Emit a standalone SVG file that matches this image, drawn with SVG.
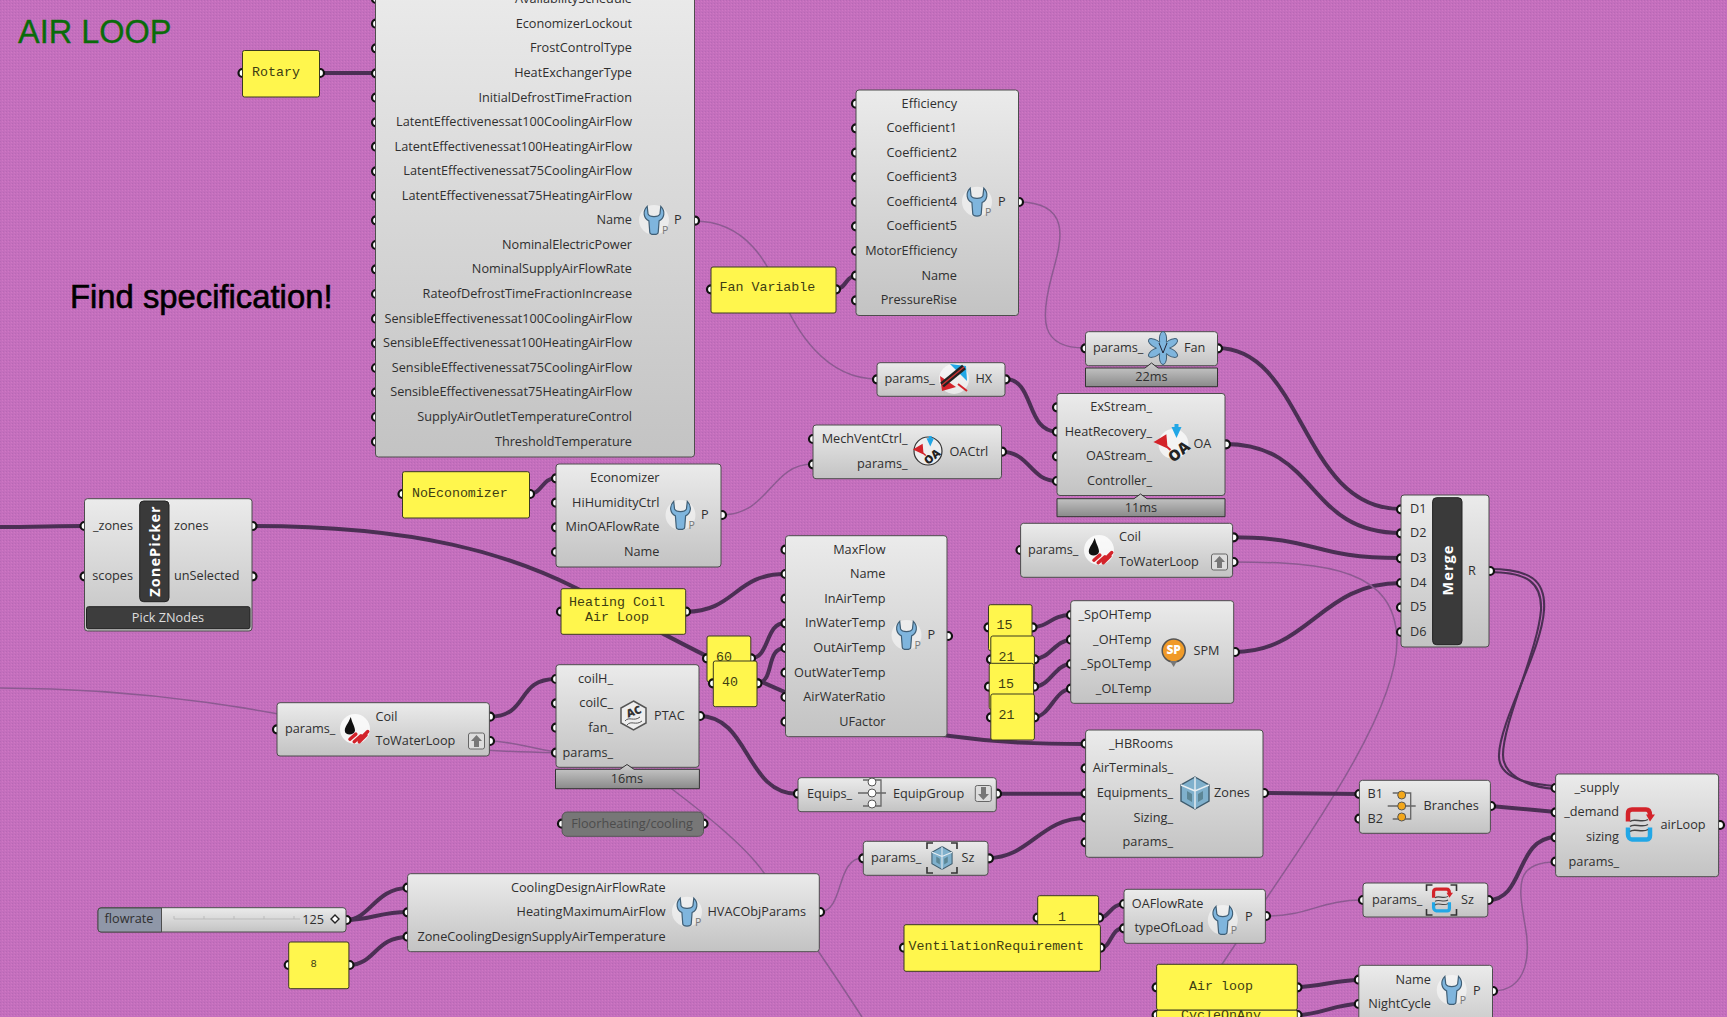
<svg xmlns="http://www.w3.org/2000/svg" xmlns:xlink="http://www.w3.org/1999/xlink" width="1727" height="1017" viewBox="0 0 1727 1017">
<style>
text{font-family:"Open Sans","Noto Sans","Liberation Sans",sans-serif;font-size:12.7px;fill:#2f2f2f;dominant-baseline:central}
text:not([transform]):not(.m){transform:translateY(-.8px)}
.e{text-anchor:end}.c{text-anchor:middle}
.m{font-family:"Liberation Mono","DejaVu Sans Mono",monospace;font-size:13.3px;fill:#3d3d12}
.n{fill:url(#ng);stroke:#4d4d4d;stroke-width:1}
.y{fill:#fff64d;stroke:#3a3a20;stroke-width:1}
.t{fill:url(#tg);stroke:#333;stroke-width:1}
.p{fill:#fff;stroke:#111;stroke-width:2.2}
.k{fill:none;stroke:#4b2f54;stroke-width:4;stroke-linecap:round}
.f{fill:none;stroke:#8d5a92;stroke-width:1.5}
.d{fill:none;stroke:#4b2f54;stroke-width:2.1}
.w{fill:#fff;font-weight:700;font-family:"Open Sans","Liberation Sans",sans-serif}
</style>
<defs>
<linearGradient id="ng" x1="0" y1="0" x2="0" y2="1"><stop offset="0" stop-color="#ebebeb"/><stop offset="1" stop-color="#c3c3c3"/></linearGradient>
<linearGradient id="tg" x1="0" y1="0" x2="0" y2="1"><stop offset="0" stop-color="#cfcfcf"/><stop offset="1" stop-color="#8a8a8a"/></linearGradient>
<pattern id="bg" width="3" height="3" patternUnits="userSpaceOnUse"><rect width="3" height="3" fill="#c46fbd"/><rect width="1" height="1" fill="#b768b5"/><rect x="2" y="1" width="1" height="1" fill="#cf78c4"/></pattern>
<g id="wrench"><circle r="15" fill="#fff" opacity=".5"/><g transform="scale(.85)"><path d="M-8,-16C-14,-10 -12,-2 -6,1L-5,14C-5,18 5,18 5,14L6,1C12,-2 14,-10 8,-16L7,-7C5,-3 -5,-3 -7,-7Z" fill="#7fb5dd" stroke="#3f5e75" stroke-width="1.4"/></g><text x="8" y="11" style="font-size:10.5px;fill:#777">P</text></g>
<g id="coil"><circle r="15" fill="#fff" opacity=".8"/><g transform="scale(.85)"><path d="M-5,-14C-8,-6 -12,-3 -12,2C-12,8 -1,8 0,2C0,-3 -3,-6 -5,-14Z" fill="#111"/><path d="M-6,12L1,6M-1,15L7,8M5,15L13,7M10,8L15,3" stroke="#d3232a" stroke-width="4" stroke-linecap="round"/></g></g>
<g id="oaarrows"><path d="M-2,-17L8,-17L3,-6ZM1,-20L5,-20L5,-14L1,-14Z" fill="#22a7e6"/><path d="M-18,-2L-8,-8L-7,3ZM-12,-2L-3,6" fill="#d3232a" stroke="#d3232a" stroke-width="2"/><text x="5" y="7" transform="rotate(-40 5 7)" class="c" style="font-size:15px;font-weight:800;fill:#222">OA</text></g>
<g id="cube"><path d="M0,-16L14,-8L14,8L0,16L-14,8L-14,-8Z" fill="#7fb0cc" stroke="#3e5b6d" stroke-width="1.4"/><path d="M0,-16L0,-2L14,-8M0,-2L-14,-8M0,-2L0,16" fill="none" stroke="#e8eef2" stroke-width="1.4"/><path d="M-8,-2L-3,1L-3,9L-8,6ZM8,-2L3,1L3,9L8,6Z" fill="#355" opacity=".45"/></g>
<g id="corners" fill="none" stroke="#333" stroke-width="1.6"><path d="M-15,-9V-15H-9M9,-15H15V-9M-15,9V15H-9M9,15H15V9"/></g>
<g id="loop"><path d="M-11,-3V-11C-11,-14 -9,-15 -7,-15H7C10,-15 11,-13 11,-9" fill="none" stroke="#d3232a" stroke-width="4.5"/><path d="M7,-10L16,-10L11,-3Z" fill="#d3232a"/><path d="M-11,3V10C-11,13 -9,15 -7,15H8C10,15 11,13 11,11V3" fill="none" stroke="#22a7e6" stroke-width="4.5"/><path d="M-9,-3C-5,-7 3,-1 9,-5M-9,2C-5,-2 3,4 9,0M-9,7C-5,3 3,9 9,5" fill="none" stroke="#444" stroke-width="1.5"/></g>
<g id="group3"><path d="M-9,-13H9V13H-9M-14,0H14" fill="none" stroke="#666" stroke-width="1.3"/><circle cy="-11" r="4"/><circle r="4"/><circle cy="11" r="4"/></g>
<g id="updown"><rect x="-8" y="-8" width="16" height="16" rx="2" fill="#ddd" stroke="#666"/></g>
</defs>
<rect width="1727" height="1017" fill="url(#bg)"/>
<text id="title" x="18" y="33" style="font-family:'Liberation Sans',sans-serif;font-size:32.5px;fill:#0a6b0a;stroke:#0a6b0a;stroke-width:.3">AIR LOOP</text>
<text id="note" x="70" y="297" style="font-family:'Liberation Sans',sans-serif;font-size:32.8px;fill:#000;stroke:#000;stroke-width:.6">Find specification!</text>

<g id="connectors">
<path class="k" d="M0,527C30,527 60,526 84,526"/>
<path class="k" d="M252,526C420,526 510,555 576,588C625,612 680,645 740,672C810,704 850,722 950,736C1000,743 1040,744 1085,744"/>
<path class="k" d="M320,73H375"/>
<path class="k" d="M836,289C846,289 846,276 855,276"/>
<path class="f" d="M1018,202C1075,202 1060,245 1052,275C1040,320 1040,348 1085,348"/>
<path class="f" d="M694,221C750,221 770,270 780,292C795,330 825,379 877,379"/>
<path class="k" d="M1005,379C1035,379 1025,431 1057,431.7"/>
<path class="k" d="M1001,451.7C1030,451.7 1030,481 1057,481"/>
<path class="f" d="M721,515C770,515 770,464 813,464"/>
<path class="k" d="M529,494C542,494 542,478 556,478"/>
<path class="k" d="M1217,348C1305,348 1300,509 1401,509"/>
<path class="k" d="M1225,444C1320,444 1305,533 1401,533"/>
<path class="k" d="M1232,537.3C1320,537.3 1310,558 1401,558"/>
<path class="k" d="M1234,652C1310,652 1320,583 1401,583"/>
<path class="f" d="M1232,562C1330,562 1395,570 1397,640C1398,720 1290,860 1215,975L1190,1017"/>
<path class="f" d="M0,688C150,688 270,710 400,738C450,749 500,752 556,752.7"/>
<path class="f" d="M489,741C510,741 530,748 556,752"/>
<path class="k" d="M686,611.7C735,611.7 735,574 785,574"/>
<path class="k" d="M751,658C770,658 765,623 785,623"/>
<path class="k" d="M757,683C775,683 765,648 785,648"/>
<path class="k" d="M699,716C750,716 745,794 798,794"/>
<path class="k" d="M489,716.7C530,716.7 515,679 556,679"/>
<path class="k" d="M1032,627C1050,627 1050,615 1071,615"/>
<path class="k" d="M1034,659C1050,659 1055,640 1071,640"/>
<path class="k" d="M1034,686.7C1050,686.7 1055,664 1071,664"/>
<path class="k" d="M1034,717C1050,717 1055,689 1071,689"/>
<path class="k" d="M996,793.7H1086"/>
<path class="k" d="M988,858C1030,858 1040,818 1086,818"/>
<path class="k" d="M1263,793L1359,794"/>
<path class="d" d="M1489,569C1530,569 1546,580 1544,610C1542,650 1500,720 1499,755C1498,775 1520,784 1556,786"/>
<path class="d" d="M1489,572C1528,572 1542,583 1541,610C1538,650 1503,722 1503,755C1503,772 1522,787 1556,789"/>
<path class="k" d="M1490,806L1556,812"/>
<path class="k" d="M1488,900C1525,900 1515,838 1556,837"/>
<path class="f" d="M1492,991C1530,991 1530,950 1525,925C1518,885 1515,862 1556,862"/>
<path class="f" d="M819,912C845,912 835,858 863,858"/>
<path class="f" d="M1265,916C1310,916 1320,900 1363,900"/>
<path class="f" d="M660,780C700,810 745,845 764,873C790,910 835,975 862,1017"/>
<path class="k" d="M1098,918C1110,918 1110,904 1124,904"/>
<path class="k" d="M1100,948C1112,948 1110,928 1124,928"/>
<path class="k" d="M1297,987C1320,987 1335,980 1359,980"/>
<path class="k" d="M1297,1015C1320,1015 1335,1004 1359,1004"/>
<path class="k" d="M346,920C370,920 375,888 408,888"/>
<path class="k" d="M346,920C370,920 380,912 408,912"/>
<path class="k" d="M349,965C375,965 375,937 408,937"/>
</g>

<g id="hx-params">
<circle class="p" cx="376" cy="-1" r="4"/><circle class="p" cx="376" cy="23.7" r="4"/><circle class="p" cx="376" cy="48.3" r="4"/><circle class="p" cx="376" cy="73.3" r="4"/><circle class="p" cx="376" cy="97.7" r="4"/><circle class="p" cx="376" cy="122.3" r="4"/><circle class="p" cx="376" cy="146.7" r="4"/><circle class="p" cx="376" cy="171.3" r="4"/><circle class="p" cx="376" cy="196" r="4"/><circle class="p" cx="376" cy="220.3" r="4"/><circle class="p" cx="376" cy="245" r="4"/><circle class="p" cx="376" cy="269.3" r="4"/><circle class="p" cx="376" cy="294" r="4"/><circle class="p" cx="376" cy="318.7" r="4"/><circle class="p" cx="376" cy="343.3" r="4"/><circle class="p" cx="376" cy="368" r="4"/><circle class="p" cx="376" cy="392.3" r="4"/><circle class="p" cx="376" cy="417" r="4"/><circle class="p" cx="376" cy="441.7" r="4"/>
<circle class="p" cx="695" cy="220.7" r="4"/>
<rect class="n" x="375.5" y="-20" width="319" height="477" rx="3"/>
<text class="e" x="632" y="-1">AvailabilitySchedule</text>
<text class="e" x="632" y="23.7">EconomizerLockout</text>
<text class="e" x="632" y="48.3">FrostControlType</text>
<text class="e" x="632" y="73.3">HeatExchangerType</text>
<text class="e" x="632" y="97.7">InitialDefrostTimeFraction</text>
<text class="e" x="632" y="122.3">LatentEffectivenessat100CoolingAirFlow</text>
<text class="e" x="632" y="146.7">LatentEffectivenessat100HeatingAirFlow</text>
<text class="e" x="632" y="171.3">LatentEffectivenessat75CoolingAirFlow</text>
<text class="e" x="632" y="196">LatentEffectivenessat75HeatingAirFlow</text>
<text class="e" x="632" y="220.3">Name</text>
<text class="e" x="632" y="245">NominalElectricPower</text>
<text class="e" x="632" y="269.3">NominalSupplyAirFlowRate</text>
<text class="e" x="632" y="294">RateofDefrostTimeFractionIncrease</text>
<text class="e" x="632" y="318.7">SensibleEffectivenessat100CoolingAirFlow</text>
<text class="e" x="632" y="343.3">SensibleEffectivenessat100HeatingAirFlow</text>
<text class="e" x="632" y="368">SensibleEffectivenessat75CoolingAirFlow</text>
<text class="e" x="632" y="392.3">SensibleEffectivenessat75HeatingAirFlow</text>
<text class="e" x="632" y="417">SupplyAirOutletTemperatureControl</text>
<text class="e" x="632" y="441.7">ThresholdTemperature</text>
<use href="#wrench" x="654" y="220"/><text x="674" y="220">P</text>
</g>

<g id="rotary"><circle class="p" cx="242.5" cy="73" r="4"/><circle class="p" cx="320" cy="73" r="4"/><rect class="y" x="242.5" y="50.5" width="77" height="46.5" rx="2"/><text class="m" x="252" y="72">Rotary</text></g>

<g id="fan-variable"><circle class="p" cx="711" cy="289.3" r="4"/><circle class="p" cx="836" cy="289.3" r="4"/><rect class="y" x="711" y="267" width="125" height="46" rx="2"/><text class="m" x="719.5" y="287.7">Fan Variable</text></g>

<g id="fan-params">
<circle class="p" cx="856" cy="103.7" r="4"/><circle class="p" cx="856" cy="128.3" r="4"/><circle class="p" cx="856" cy="152.7" r="4"/><circle class="p" cx="856" cy="177.3" r="4"/><circle class="p" cx="856" cy="202" r="4"/><circle class="p" cx="856" cy="226.3" r="4"/><circle class="p" cx="856" cy="251" r="4"/><circle class="p" cx="856" cy="275.7" r="4"/><circle class="p" cx="856" cy="300.3" r="4"/><circle class="p" cx="1019" cy="202" r="4"/>
<rect class="n" x="856" y="90" width="162.5" height="225.5" rx="3"/>
<text class="e" x="957" y="103.7">Efficiency</text><text class="e" x="957" y="128.3">Coefficient1</text><text class="e" x="957" y="152.7">Coefficient2</text><text class="e" x="957" y="177.3">Coefficient3</text><text class="e" x="957" y="202">Coefficient4</text><text class="e" x="957" y="226.3">Coefficient5</text><text class="e" x="957" y="251">MotorEfficiency</text><text class="e" x="957" y="275.7">Name</text><text class="e" x="957" y="300.3">PressureRise</text>
<use href="#wrench" x="977" y="201.7"/><text x="998" y="202">P</text>
</g>

<g id="fan"><circle class="p" cx="1085.5" cy="348.3" r="4"/><circle class="p" cx="1218" cy="348.3" r="4"/><rect class="n" x="1085.5" y="331.7" width="132" height="34" rx="3"/><text x="1093" y="348.3">params_</text>
<g transform="translate(1163,348)" fill="#7fb5dd" stroke="#3f5e75"><ellipse cy="-9" rx="3.6" ry="7.5"/><ellipse cy="-9" rx="3.6" ry="7.5" transform="rotate(60)"/><ellipse cy="-9" rx="3.6" ry="7.5" transform="rotate(120)"/><ellipse cy="-9" rx="3.6" ry="7.5" transform="rotate(180)"/><ellipse cy="-9" rx="3.6" ry="7.5" transform="rotate(240)"/><ellipse cy="-9" rx="3.6" ry="7.5" transform="rotate(300)"/><circle r="6.5" stroke="none"/><path d="M-4,-5L0,5L4,-5" fill="none" stroke="#223"/></g>
<text x="1184" y="348.3">Fan</text>
<path class="t" d="M1085.5,368H1145L1151.5,363L1158,368H1217.5V386.7H1085.5Z"/><text class="c" x="1151.5" y="377.3">22ms</text></g>

<g id="hx"><circle class="p" cx="877" cy="379.3" r="4"/><circle class="p" cx="1005.5" cy="379.3" r="4"/><rect class="n" x="877" y="362.7" width="128" height="33.6" rx="3"/><text x="884.5" y="379.3">params_</text>
<g transform="translate(954,379)"><circle r="15" fill="#fff" opacity=".6"/><path d="M-4,-15L12,-13L13,2Z" fill="#22a7e6"/><path d="M-14,-3L-12,12L2,8Z" fill="#d3232a"/><path d="M-12,6L10,-12" stroke="#222" stroke-width="6"/><path d="M-12,6L10,-12" stroke="#c33" stroke-width="1.5"/><path d="M4,5L13,12" stroke="#d3232a" stroke-width="2"/></g>
<text x="975.5" y="379.3">HX</text></g>

<g id="oa"><circle class="p" cx="1057" cy="407.3" r="4"/><circle class="p" cx="1057" cy="431.7" r="4"/><circle class="p" cx="1057" cy="456.3" r="4"/><circle class="p" cx="1057" cy="481" r="4"/><circle class="p" cx="1226" cy="444.3" r="4"/>
<rect class="n" x="1057" y="393.5" width="168" height="102" rx="3"/>
<text class="e" x="1152" y="407.3">ExStream_</text><text class="e" x="1152" y="431.7">HeatRecovery_</text><text class="e" x="1152" y="456.3">OAStream_</text><text class="e" x="1152" y="481">Controller_</text>
<circle cx="1173.5" cy="444" r="15" fill="#fff" opacity=".7"/><use href="#oaarrows" x="1173.5" y="444"/><text x="1193.5" y="444">OA</text>
<path class="t" d="M1057,498.7H1134L1140.5,494L1147,498.7H1225V516.7H1057Z"/><text class="c" x="1141" y="507.7">11ms</text></g>

<g id="oactrl"><circle class="p" cx="813" cy="439" r="4"/><circle class="p" cx="813" cy="464.3" r="4"/><circle class="p" cx="1002" cy="451.7" r="4"/><rect class="n" x="813" y="425" width="188.5" height="53.7" rx="3"/>
<text class="e" x="907.5" y="439">MechVentCtrl_</text><text class="e" x="907.5" y="464.3">params_</text>
<circle cx="928" cy="451" r="14" fill="#eee" stroke="#333" stroke-width="1.2"/><use href="#oaarrows" transform="translate(928,451) scale(.75)"/>
<text x="949.5" y="451.5">OACtrl</text></g>

<g id="noeconomizer"><circle class="p" cx="402.5" cy="494" r="4"/><circle class="p" cx="530" cy="494" r="4"/><rect class="y" x="402.5" y="471.7" width="127" height="46.3" rx="2"/><text class="m" x="412" y="493.3">NoEconomizer</text></g>

<g id="vent-params"><circle class="p" cx="556" cy="478.3" r="4"/><circle class="p" cx="556" cy="502.7" r="4"/><circle class="p" cx="556" cy="527.3" r="4"/><circle class="p" cx="556" cy="552" r="4"/><circle class="p" cx="722" cy="515" r="4"/>
<rect class="n" x="556" y="464" width="165" height="103" rx="3"/>
<text class="e" x="659.5" y="478.3">Economizer</text><text class="e" x="659.5" y="502.7">HiHumidityCtrl</text><text class="e" x="659.5" y="527.3">MinOAFlowRate</text><text class="e" x="659.5" y="552">Name</text>
<use href="#wrench" x="680.5" y="515"/><text x="701" y="515">P</text></g>

<g id="zonepicker"><circle class="p" cx="84.5" cy="526" r="4"/><circle class="p" cx="84.5" cy="576.3" r="4"/><circle class="p" cx="252.5" cy="526" r="4"/><circle class="p" cx="252.5" cy="576.3" r="4"/>
<rect class="n" x="84.5" y="498.7" width="167.5" height="132.3" rx="3"/>
<text class="e" x="133" y="526">_zones</text><text class="e" x="133" y="576.3">scopes</text><text x="174" y="526">zones</text><text x="174" y="576.3">unSelected</text>
<rect x="139.7" y="501" width="29.3" height="100.7" rx="4" fill="#3a3a3a" stroke="#222"/>
<text class="c w" transform="translate(154.5,551) rotate(-90)" style="font-size:14.5px;letter-spacing:1.1px">ZonePicker</text>
<rect x="86.5" y="606.7" width="163.5" height="22" rx="2" fill="#3d3d3d" stroke="#222"/>
<text class="c" x="168" y="617.5" style="fill:#ddd">Pick ZNodes</text></g>

<g id="heating-coil"><circle class="p" cx="561" cy="611.7" r="4"/><circle class="p" cx="686" cy="611.7" r="4"/><rect class="y" x="561" y="588.7" width="124.7" height="45.6" rx="2"/><text class="m c" x="617" y="602.5">Heating Coil</text><text class="m c" x="617" y="617">Air Loop</text></g>

<g id="coil-left"><circle class="p" cx="277" cy="729.3" r="4"/><circle class="p" cx="490" cy="716.7" r="4"/><circle class="p" cx="490" cy="741" r="4"/><rect class="n" x="277" y="702.7" width="212.4" height="53.3" rx="3"/><text x="285" y="729">params_</text><use href="#coil" x="355" y="729"/><text x="375.5" y="716.7">Coil</text><text x="375.5" y="741.3">ToWaterLoop</text><use href="#updown" x="476.5" y="741"/><path d="M476.5,735L482,741H479V747H474V741H471Z" fill="#777"/></g>

<g id="ptac"><circle class="p" cx="556" cy="679" r="4"/><circle class="p" cx="556" cy="703.3" r="4"/><circle class="p" cx="556" cy="727.7" r="4"/><circle class="p" cx="556" cy="752.7" r="4"/><circle class="p" cx="700" cy="716" r="4"/>
<rect class="n" x="556" y="664.7" width="143" height="102.6" rx="3"/>
<text class="e" x="613" y="679">coilH_</text><text class="e" x="613" y="703.3">coilC_</text><text class="e" x="613" y="727.7">fan_</text><text class="e" x="613" y="752.7">params_</text>
<path d="M633.5,701L646,708V723L633.5,730L621,723V708Z" fill="#eee" stroke="#555" stroke-width="1.5"/><text class="c" x="633.5" y="711" transform="rotate(-20 633.5 711)" style="font-size:11px;font-weight:800;fill:#333">AC</text><path d="M625,721C629,716 634,722 640,717M627,725C631,720 636,726 642,721" fill="none" stroke="#555"/>
<text x="654" y="715.7">PTAC</text>
<path class="t" d="M555.5,769.3H620L627,764.5L634,769.3H699.4V788.7H555.5Z"/><text class="c" x="627" y="778.7">16ms</text></g>

<g id="maxflow-params"><circle class="p" cx="785.5" cy="549.7" r="4"/><circle class="p" cx="785.5" cy="574" r="4"/><circle class="p" cx="785.5" cy="598.7" r="4"/><circle class="p" cx="785.5" cy="623.3" r="4"/><circle class="p" cx="785.5" cy="648" r="4"/><circle class="p" cx="785.5" cy="672.7" r="4"/><circle class="p" cx="785.5" cy="697" r="4"/><circle class="p" cx="785.5" cy="721.7" r="4"/><circle class="p" cx="948" cy="636" r="4"/>
<rect class="n" x="785.5" y="535.7" width="161.5" height="201" rx="3"/>
<text class="e" x="885.5" y="549.7">MaxFlow</text><text class="e" x="885.5" y="574">Name</text><text class="e" x="885.5" y="598.7">InAirTemp</text><text class="e" x="885.5" y="623.3">InWaterTemp</text><text class="e" x="885.5" y="648">OutAirTemp</text><text class="e" x="885.5" y="672.7">OutWaterTemp</text><text class="e" x="885.5" y="697">AirWaterRatio</text><text class="e" x="885.5" y="721.7">UFactor</text>
<use href="#wrench" x="906.5" y="635"/><text x="927.5" y="635">P</text></g>

<g id="num-60"><circle class="p" cx="707" cy="658.3" r="4"/><circle class="p" cx="751" cy="658.3" r="4"/><rect class="y" x="707" y="636" width="43.8" height="46" rx="2"/><text class="m c" x="724" y="657">60</text></g>
<g id="num-40"><circle class="p" cx="713" cy="683.3" r="4"/><circle class="p" cx="757.5" cy="683.3" r="4"/><rect class="y" x="713.3" y="661" width="43.7" height="45.7" rx="2"/><text class="m c" x="730" y="682.3">40</text></g>
<g id="num-15a"><circle class="p" cx="988.5" cy="627.3" r="4"/><circle class="p" cx="1032.5" cy="627.3" r="4"/><rect class="y" x="988.5" y="604.7" width="43.5" height="46" rx="2"/><text class="m c" x="1004.5" y="625.7">15</text></g>
<g id="num-21a"><circle class="p" cx="991" cy="659.3" r="4"/><circle class="p" cx="1034.5" cy="659.3" r="4"/><rect class="y" x="990.8" y="636" width="43.6" height="46" rx="2"/><text class="m c" x="1006.5" y="657">21</text></g>
<g id="num-15b"><circle class="p" cx="989" cy="686.7" r="4"/><circle class="p" cx="1034" cy="686.7" r="4"/><rect class="y" x="989.2" y="663.3" width="44.4" height="46" rx="2"/><text class="m c" x="1006" y="684.3">15</text></g>
<g id="num-21b"><circle class="p" cx="991" cy="717.3" r="4"/><circle class="p" cx="1034.5" cy="717.3" r="4"/><rect class="y" x="990.8" y="694" width="43.6" height="46" rx="2"/><text class="m c" x="1006.5" y="715.3">21</text></g>

<g id="spm"><circle class="p" cx="1071" cy="615" r="4"/><circle class="p" cx="1071" cy="639.7" r="4"/><circle class="p" cx="1071" cy="664" r="4"/><circle class="p" cx="1071" cy="688.7" r="4"/><circle class="p" cx="1235" cy="652" r="4"/>
<rect class="n" x="1070.7" y="600.7" width="163" height="102.6" rx="3"/>
<text class="e" x="1151.5" y="615">_SpOHTemp</text><text class="e" x="1151.5" y="639.7">_OHTemp</text><text class="e" x="1151.5" y="664">_SpOLTemp</text><text class="e" x="1151.5" y="688.7">_OLTemp</text>
<circle cx="1173.7" cy="650.5" r="11.5" fill="#f09a28" stroke="#555" stroke-width="1.5"/><path d="M1170,661L1173.7,667L1177,661Z" fill="#777"/><text class="c" x="1173.7" y="650" style="font-size:12px;font-weight:800;fill:#fff">SP</text>
<text x="1193.5" y="651">SPM</text></g>

<g id="coil-right"><circle class="p" cx="1020.5" cy="550" r="4"/><circle class="p" cx="1233.5" cy="537.3" r="4"/><circle class="p" cx="1233.5" cy="562" r="4"/><rect class="n" x="1020.6" y="523.3" width="212" height="54" rx="3"/><text x="1028" y="550">params_</text><use href="#coil" x="1099" y="550"/><text x="1119" y="537.3">Coil</text><text x="1119" y="562">ToWaterLoop</text><use href="#updown" x="1219.5" y="562"/><path d="M1219.5,556L1225,562H1222V568H1217V562H1214Z" fill="#777"/></g>

<g id="zones"><circle class="p" cx="1085.6" cy="743.7" r="4"/><circle class="p" cx="1085.6" cy="768.3" r="4"/><circle class="p" cx="1085.6" cy="793.3" r="4"/><circle class="p" cx="1085.6" cy="817.7" r="4"/><circle class="p" cx="1085.6" cy="842.3" r="4"/><circle class="p" cx="1264" cy="793" r="4"/>
<rect class="n" x="1085.6" y="730" width="177.4" height="127.3" rx="3"/>
<text class="e" x="1173" y="743.7">_HBRooms</text><text class="e" x="1173" y="768.3">AirTerminals_</text><text class="e" x="1173" y="793.3">Equipments_</text><text class="e" x="1173" y="817.7">Sizing_</text><text class="e" x="1173" y="842.3">params_</text>
<use href="#cube" x="1195" y="793"/><text x="1214" y="793">Zones</text></g>

<g id="equipgroup"><circle class="p" cx="798" cy="793.7" r="4"/><circle class="p" cx="997" cy="793.7" r="4"/><rect class="n" x="798" y="777.7" width="198.3" height="34" rx="3"/><text x="807" y="794">Equips_</text><use href="#group3" x="872" y="793" fill="#fff" stroke="#555"/><text x="893" y="793.5">EquipGroup</text><use href="#updown" x="983.3" y="793.5"/><path d="M983.3,800L989,794H986V787H981V794H978Z" fill="#777"/></g>

<g id="sz-zone"><circle class="p" cx="863.3" cy="858.3" r="4"/><circle class="p" cx="989" cy="858.3" r="4"/><rect class="n" x="863.3" y="841.3" width="124.7" height="34" rx="3"/><text x="871" y="858.3">params_</text><use href="#cube" transform="translate(942,858) scale(.72)"/><use href="#corners" x="942" y="858"/><text x="961.5" y="858.3">Sz</text></g>

<g id="branches"><circle class="p" cx="1359.4" cy="794" r="4"/><circle class="p" cx="1359.4" cy="818.7" r="4"/><circle class="p" cx="1491" cy="806" r="4"/><rect class="n" x="1359.4" y="780.3" width="131" height="53" rx="3"/><text x="1367.5" y="794">B1</text><text x="1367.5" y="818.7">B2</text><use href="#group3" x="1401.7" y="806" fill="#f2a71b" stroke="#555"/><text x="1423.5" y="806">Branches</text></g>

<g id="airloop"><circle class="p" cx="1555.6" cy="788" r="4"/><circle class="p" cx="1555.6" cy="812.3" r="4"/><circle class="p" cx="1555.6" cy="837.3" r="4"/><circle class="p" cx="1555.6" cy="861.7" r="4"/><circle class="p" cx="1720" cy="825" r="4"/>
<rect class="n" x="1555.6" y="774" width="163" height="102.7" rx="3"/>
<text class="e" x="1619" y="788">_supply</text><text class="e" x="1619" y="812.3">_demand</text><text class="e" x="1619" y="837.3">sizing</text><text class="e" x="1619" y="861.7">params_</text>
<use href="#loop" x="1639" y="824.5"/><text x="1660.5" y="824.5">airLoop</text></g>

<g id="merge"><circle class="p" cx="1401" cy="509.3" r="4"/><circle class="p" cx="1401" cy="533.3" r="4"/><circle class="p" cx="1401" cy="558.3" r="4"/><circle class="p" cx="1401" cy="583" r="4"/><circle class="p" cx="1401" cy="607.3" r="4"/><circle class="p" cx="1401" cy="632" r="4"/><circle class="p" cx="1490" cy="571" r="4"/>
<rect class="n" x="1401" y="495" width="88" height="152" rx="3"/>
<text x="1410" y="509.3">D1</text><text x="1410" y="533.3">D2</text><text x="1410" y="558.3">D3</text><text x="1410" y="583">D4</text><text x="1410" y="607.3">D5</text><text x="1410" y="632">D6</text>
<rect x="1432.6" y="497.7" width="29.4" height="147" rx="4" fill="#3a3a3a" stroke="#222"/>
<text class="c w" transform="translate(1447.5,570) rotate(-90)" style="font-size:14.5px;letter-spacing:1.1px">Merge</text>
<text x="1468" y="570.7">R</text></g>

<g id="sz-air"><circle class="p" cx="1363" cy="900" r="4"/><circle class="p" cx="1488.5" cy="900" r="4"/><rect class="n" x="1363" y="883" width="124.8" height="34" rx="3"/><text x="1372" y="900">params_</text><use href="#loop" transform="translate(1441.5,900) scale(.72)"/><use href="#corners" x="1441.5" y="900"/><text x="1461" y="900">Sz</text></g>

<g id="oaflow-params"><circle class="p" cx="1124" cy="904" r="4"/><circle class="p" cx="1124" cy="928.3" r="4"/><circle class="p" cx="1266" cy="916" r="4"/><rect class="n" x="1124" y="889.3" width="141.4" height="54" rx="3"/><text class="e" x="1203.5" y="904">OAFlowRate</text><text class="e" x="1203.5" y="928.3">typeOfLoad</text><use href="#wrench" x="1222.8" y="920"/><text x="1245" y="917">P</text></g>

<g id="num-1"><circle class="p" cx="1037.7" cy="917.7" r="4"/><circle class="p" cx="1099" cy="917.7" r="4"/><rect class="y" x="1037.7" y="895.7" width="60.9" height="46" rx="2"/><text class="m c" x="1062" y="917.3">1</text></g>
<g id="ventilation"><circle class="p" cx="904" cy="947.7" r="4"/><circle class="p" cx="1100.5" cy="947.7" r="4"/><rect class="y" x="904" y="924.7" width="196.4" height="46.6" rx="2"/><text class="m" x="908.5" y="946.7">VentilationRequirement</text></g>
<g id="cycleonany"><circle class="p" cx="1156.6" cy="1015" r="4"/><circle class="p" cx="1297.5" cy="1015" r="4"/><rect class="y" x="1156.6" y="1010" width="140.7" height="46" rx="2"/><text class="m c" x="1221" y="1015">CycleOnAny</text></g>
<g id="air-loop"><circle class="p" cx="1156.6" cy="987.3" r="4"/><circle class="p" cx="1297.5" cy="987.3" r="4"/><rect class="y" x="1156.6" y="964.3" width="140.7" height="45.7" rx="2"/><text class="m c" x="1221" y="986">Air loop</text></g>

<g id="nightcycle-params"><circle class="p" cx="1358.8" cy="979.7" r="4"/><circle class="p" cx="1358.8" cy="1004" r="4"/><circle class="p" cx="1493" cy="991" r="4"/><rect class="n" x="1358.8" y="965.3" width="133.7" height="75" rx="3"/><text class="e" x="1431" y="979.7">Name</text><text class="e" x="1431" y="1004">NightCycle</text><use href="#wrench" x="1451.7" y="990"/><text x="1473" y="990.5">P</text></g>

<g id="flowrate-slider"><circle class="p" cx="346.5" cy="920" r="4"/><rect class="n" x="98" y="907.7" width="248" height="24.3" rx="3"/><path d="M98,911a3,3 0 0 1 3,-3h60.5v24h-60.5a3,3 0 0 1 -3,-3Z" fill="#8f97a8" stroke="#4d4d4d"/><text class="c" x="129" y="919.3">flowrate</text><path d="M174,919H300M174,916v3M204,916v3M234,916v3M264,916v3M294,916v3" stroke="#bbb" stroke-width="1" fill="none"/><text class="e" x="324" y="919.5">125</text><path d="M335,915L339,919L335,923L331,919Z" fill="#fff" stroke="#222" stroke-width="1.4"/></g>

<g id="hvac-params"><circle class="p" cx="407.6" cy="887.7" r="4"/><circle class="p" cx="407.6" cy="912.3" r="4"/><circle class="p" cx="407.6" cy="936.7" r="4"/><circle class="p" cx="820" cy="912" r="4"/><rect class="n" x="407.6" y="873.7" width="411.7" height="78" rx="3"/>
<text class="e" x="665.7" y="887.7">CoolingDesignAirFlowRate</text><text class="e" x="665.7" y="912.3">HeatingMaximumAirFlow</text><text class="e" x="665.7" y="936.7">ZoneCoolingDesignSupplyAirTemperature</text>
<use href="#wrench" x="687" y="911.7"/><text x="707.5" y="912">HVACObjParams</text></g>

<g id="num-8"><circle class="p" cx="288.7" cy="965" r="4"/><circle class="p" cx="349.5" cy="965" r="4"/><rect class="y" x="288.7" y="942" width="60.2" height="46.7" rx="2"/><text class="m c" x="313.7" y="964" style="font-size:10.5px">8</text></g>

<g id="floorheating"><circle class="p" cx="562" cy="823.7" r="4"/><circle class="p" cx="703.5" cy="823.7" r="4"/><rect x="562.1" y="812" width="141.4" height="24.3" rx="5" fill="#777" stroke="#555"/><text class="c" x="632" y="823.5" style="fill:#4c4c4c">Floorheating/cooling</text></g>
</svg>
